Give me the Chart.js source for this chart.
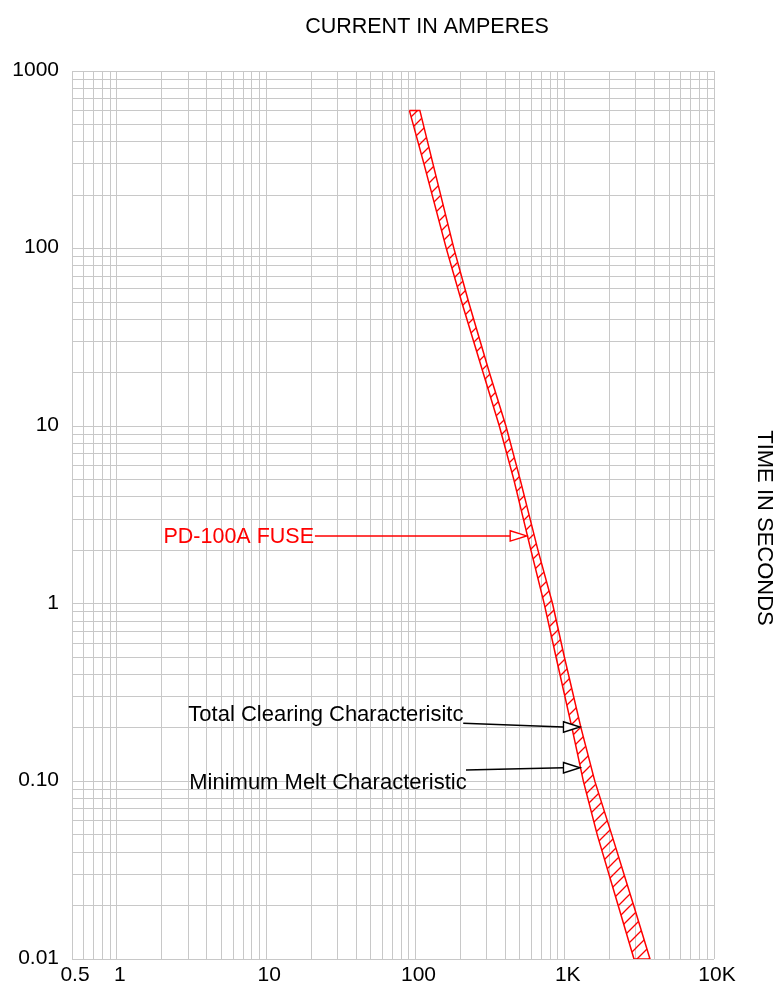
<!DOCTYPE html>
<html>
<head>
<meta charset="utf-8">
<script src="https://cdn.jsdelivr.net/npm/chart.js@4/dist/chart.umd.min.js"></script>
<style>
html,body{margin:0;padding:0;background:#ffffff;}
#wrap{width:777px;height:989px;}
</style>
</head>
<body>
<div id="wrap"><canvas id="c" width="777" height="989"></canvas></div>
<script>
// ---- data (current in A, time in s) ----
const timesSec       = [600, 300, 100, 50, 20, 10, 5, 2, 1, 0.5, 0.2, 0.1, 0.05, 0.02, 0.01];
const minMeltAmps    = [91, 114, 161, 204, 284, 365, 456, 594, 729, 875, 1118, 1334, 1652, 2281, 2911];
const totalClearAmps = [107, 131, 181, 227, 313, 404, 503, 662, 829, 995, 1285, 1592, 2067, 2897, 3726];

// ---- axes ----
const xGridValues = [0.5,0.6,0.7,0.8,0.9,
  1,2,3,4,5,6,7,8,9,
  10,20,30,40,50,60,70,80,90,
  100,200,300,400,500,600,700,800,900,
  1000,2000,3000,4000,5000,6000,7000,8000,9000,10000];
const yGridValues = [0.01,0.02,0.03,0.04,0.05,0.06,0.07,0.08,0.09,
  0.1,0.2,0.3,0.4,0.5,0.6,0.7,0.8,0.9,
  1,2,3,4,5,6,7,8,9,
  10,20,30,40,50,60,70,80,90,
  100,200,300,400,500,600,700,800,900,1000];
const xLabelValues = [0.5, 1, 10, 100, 1000, 10000];
const xLabelTexts  = ['0.5', '1', '10', '100', '1K', '10K'];
const yLabelValues = [0.01, 0.1, 1, 10, 100, 1000];
const yLabelTexts  = ['0.01', '0.10', '1', '10', '100', '1000'];

// ---- texts ----
const xTitle = 'CURRENT IN AMPERES';
const yTitle = 'TIME IN SECONDS';
const annotations = [
  { text: 'PD-100A FUSE', color: '#ff0000', textAmp: 2.05, textTime: 2.19, lineFromAmp: 21.2, tipAmp: 556, tipTime: 2.41, fromTime: 2.41, size: 21.5 },
  { text: 'Total Clearing Characterisitc', color: '#000000', textAmp: 3.01, textTime: 0.219, lineFromAmp: 209, fromTime: 0.2125, tipAmp: 1265, tipTime: 0.2025, size: 22 },
  { text: 'Minimum Melt Characteristic', color: '#000000', textAmp: 3.05, textTime: 0.0902, lineFromAmp: 218, fromTime: 0.1159, tipAmp: 1265, tipTime: 0.1194, size: 22 }
];

// band outline: min melt from top to bottom, then total clearing back up
const bandPoints = [];
for (let i = 0; i < timesSec.length; i++) bandPoints.push({ x: minMeltAmps[i], y: timesSec[i] });
for (let i = timesSec.length - 1; i >= 0; i--) bandPoints.push({ x: totalClearAmps[i], y: timesSec[i] });
bandPoints.push({ x: minMeltAmps[0], y: timesSec[0] });

function labelFor(v, vals, texts) {
  for (let i = 0; i < vals.length; i++) {
    if (Math.abs(v - vals[i]) / vals[i] < 1e-6) return texts[i];
  }
  return '';
}

const FONT = "'Liberation Sans', Arial, Helvetica, sans-serif";

function makeHatch(ctx) {
  const S = 12;
  const c = document.createElement('canvas');
  c.width = S; c.height = S;
  const g = c.getContext('2d');
  g.strokeStyle = '#ff0000';
  g.lineWidth = 1.3;
  g.beginPath();
  g.moveTo(-2, S + 2); g.lineTo(S + 2, -2);
  g.moveTo(-2, 2); g.lineTo(2, -2);
  g.moveTo(S - 2, S + 2); g.lineTo(S + 2, S - 2);
  g.stroke();
  return ctx.createPattern(c, 'repeat');
}

const hatchPlugin = {
  id: 'hatch',
  beforeDatasetsDraw(chart) {
    const meta = chart.getDatasetMeta(0);
    const pts = meta.data;
    if (!pts || !pts.length) return;
    const ctx = chart.ctx;
    const a = chart.chartArea;
    ctx.save();
    ctx.beginPath();
    ctx.rect(a.left, a.top, a.right - a.left, a.bottom - a.top);
    ctx.clip();
    ctx.beginPath();
    ctx.moveTo(pts[0].x, pts[0].y);
    for (let i = 1; i < pts.length; i++) ctx.lineTo(pts[i].x, pts[i].y);
    ctx.closePath();
    ctx.fillStyle = makeHatch(ctx);
    ctx.fill();
    ctx.restore();
  }
};

const textPlugin = {
  id: 'texts',
  afterDraw(chart) {
    const ctx = chart.ctx;
    const xs = chart.scales.x, ys = chart.scales.y;
    ctx.save();
    // top title
    ctx.fillStyle = '#000';
    ctx.font = '21.5px ' + FONT;
    ctx.textAlign = 'center';
    ctx.textBaseline = 'alphabetic';
    ctx.fillText(xTitle, 427, 33.3);
    // right title rotated
    ctx.save();
    ctx.translate(757.5, 528);
    ctx.rotate(Math.PI / 2);
    ctx.font = '22px ' + FONT;
    ctx.textAlign = 'center';
    ctx.textBaseline = 'alphabetic';
    ctx.fillText(yTitle, 0, 0);
    ctx.restore();
    // annotations
    for (const an of annotations) {
      const tx = xs.getPixelForValue(an.textAmp);
      const ty = ys.getPixelForValue(an.textTime);
      ctx.fillStyle = an.color;
      ctx.font = an.size + 'px ' + FONT;
      ctx.textAlign = 'left';
      ctx.textBaseline = 'alphabetic';
      ctx.fillText(an.text, tx, ty);
      const x0 = xs.getPixelForValue(an.lineFromAmp);
      const y0 = ys.getPixelForValue(an.fromTime);
      const x1 = xs.getPixelForValue(an.tipAmp);
      const y1 = ys.getPixelForValue(an.tipTime);
      const headLen = 16.5, headHalf = 5.2;
      const bx = x1 - headLen;
      ctx.strokeStyle = an.color;
      ctx.lineWidth = 1.4;
      ctx.beginPath();
      ctx.moveTo(x0, y0);
      ctx.lineTo(bx, y1);
      ctx.stroke();
      ctx.beginPath();
      ctx.moveTo(bx, y1 - headHalf);
      ctx.lineTo(x1, y1);
      ctx.lineTo(bx, y1 + headHalf);
      ctx.closePath();
      ctx.fillStyle = '#ffffff';
      ctx.fill();
      ctx.stroke();
    }
    ctx.restore();
  }
};

new Chart(document.getElementById('c'), {
  type: 'scatter',
  data: {
    datasets: [{
      data: bandPoints,
      showLine: true,
      borderColor: '#ff0000',
      borderWidth: 1.5,
      pointRadius: 0,
      pointHoverRadius: 0,
      tension: 0,
      fill: false
    }]
  },
  options: {
    responsive: false,
    animation: false,
    devicePixelRatio: 1,
    layout: { padding: { top: 71, right: 63, left: 0, bottom: 0 } },
    plugins: { legend: { display: false }, tooltip: { enabled: false }, title: { display: false } },
    scales: {
      x: {
        type: 'logarithmic',
        position: 'bottom',
        min: 0.5,
        max: 10000,
        afterBuildTicks: s => { s.ticks = xGridValues.map(v => ({ value: v })); },
        afterFit: s => { s.height = 30; },
        grid: { color: '#c8c8c8', lineWidth: 1, drawTicks: false },
        border: { display: false },
        ticks: {
          autoSkip: false, maxRotation: 0, minRotation: 0, padding: 4, labelOffset: 3,
          color: '#000', font: { family: FONT, size: 21 },
          callback: v => labelFor(v, xLabelValues, xLabelTexts)
        }
      },
      y: {
        type: 'logarithmic',
        position: 'left',
        min: 0.01,
        max: 1000,
        afterBuildTicks: s => { s.ticks = yGridValues.map(v => ({ value: v })); },
        afterFit: s => { s.width = 72; },
        grid: { color: '#c8c8c8', lineWidth: 1, drawTicks: false },
        border: { display: false },
        ticks: {
          autoSkip: false, padding: 13, labelOffset: -1,
          color: '#000', font: { family: FONT, size: 21 },
          callback: v => labelFor(v, yLabelValues, yLabelTexts)
        }
      }
    }
  },
  plugins: [hatchPlugin, textPlugin]
});
</script>
</body>
</html>
